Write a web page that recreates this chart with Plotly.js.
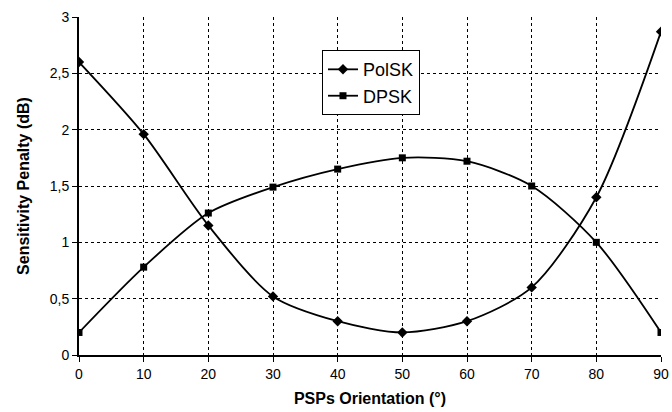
<!DOCTYPE html>
<html><head><meta charset="utf-8">
<script src="https://cdn.plot.ly/plotly-3.0.1.min.js"></script>
<style>html,body{margin:0;padding:0;background:#fff}#c{width:672px;height:412px}</style>
</head><body><div id="c"></div>
<script>
const orientation = [0, 10, 20, 30, 40, 50, 60, 70, 80, 90];
const polsk = [2.6, 1.96, 1.15, 0.52, 0.3, 0.2, 0.3, 0.6, 1.4, 2.87];
const dpsk = [0.2, 0.78, 1.26, 1.49, 1.65, 1.75, 1.72, 1.5, 1.0, 0.2];
const seriesNames = ['PolSK', 'DPSK'];

const traces = [
  {x: orientation, y: polsk, name: seriesNames[0], mode: 'lines+markers',
   line: {color: '#000', width: 1.8, shape: 'spline', smoothing: 0.8},
   marker: {symbol: 'diamond', size: 8, color: '#000'}},
  {x: orientation, y: dpsk, name: seriesNames[1], mode: 'lines+markers',
   line: {color: '#000', width: 1.8, shape: 'spline', smoothing: 0.8},
   marker: {symbol: 'square', size: 7, color: '#000'}}
];
const layout = {
  width: 672, height: 412,
  margin: {l: 79, r: 11, t: 17, b: 57},
  separators: ',.',
  paper_bgcolor: '#fff', plot_bgcolor: '#fff',
  font: {family: 'Arial, Liberation Sans, sans-serif', color: '#000', size: 14},
  showlegend: true,
  legend: {x: 0.4175, y: 0.902, xanchor: 'left', yanchor: 'top', bgcolor: '#fff',
    bordercolor: '#000', borderwidth: 1, font: {size: 18}, tracegroupgap: 4},
  xaxis: {range: [0, 90], dtick: 10, tick0: 0, showgrid: true, gridcolor: '#000',
    griddash: 'dot', gridwidth: 1, showline: true, linecolor: '#000', linewidth: 2,
    ticks: 'outside', ticklen: 5, tickcolor: '#000', zeroline: false,
    title: {text: '<b>PSPs Orientation (°)</b>', font: {size: 16}, standoff: 12}},
  yaxis: {range: [0, 3], dtick: 0.5, tick0: 0, showgrid: true, gridcolor: '#000',
    griddash: 'dot', gridwidth: 1, showline: true, linecolor: '#000', linewidth: 2,
    ticks: 'outside', ticklen: 5, tickcolor: '#000', zeroline: false,
    title: {text: '<b>Sensitivity Penalty (dB)</b>', font: {size: 16}, standoff: 16}}
};
Plotly.newPlot('c', traces, layout, {displayModeBar: false, staticPlot: true});
</script></body></html>
